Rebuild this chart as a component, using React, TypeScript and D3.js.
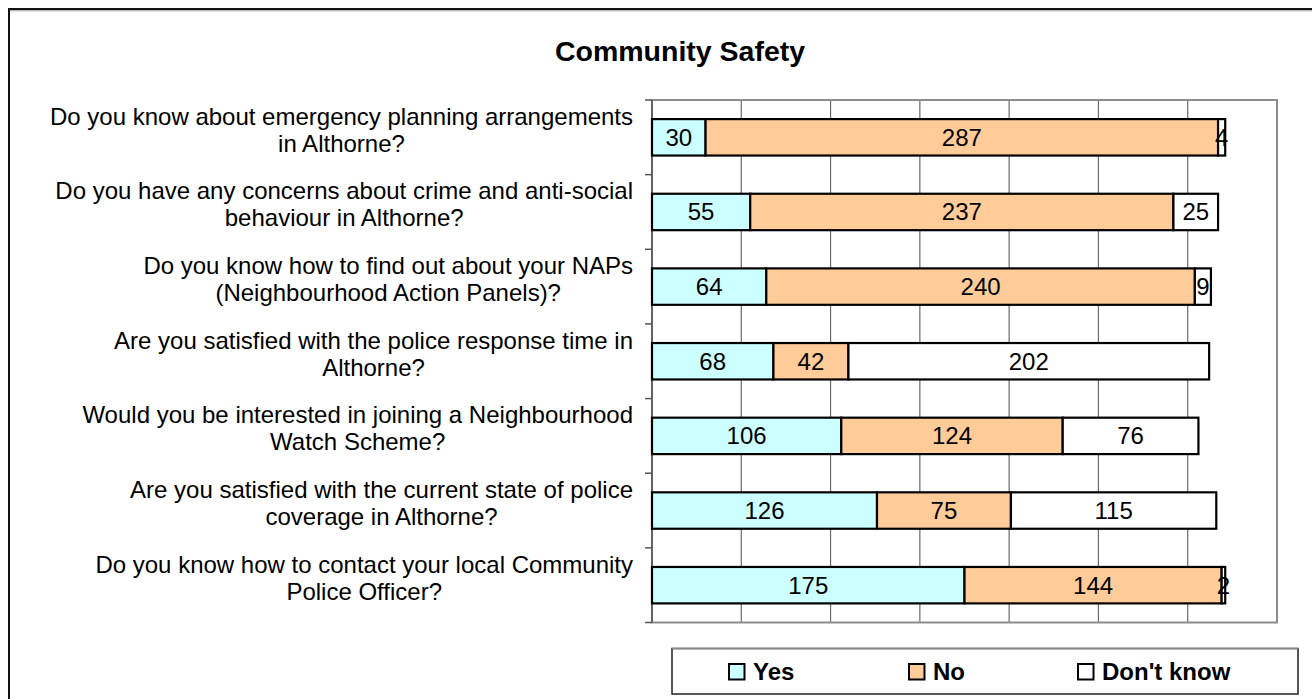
import React from "react";
import * as d3 from "d3";

const categories: string[][] = [
  ["Do you know about emergency planning arrangements", "in Althorne?"],
  ["Do you have any concerns about crime and anti-social", "behaviour in Althorne?"],
  ["Do you know how to find out about your NAPs", "(Neighbourhood Action Panels)?"],
  ["Are you satisfied with the police response time in", "Althorne?"],
  ["Would you be interested in joining a Neighbourhood", "Watch Scheme?"],
  ["Are you satisfied with the current state of police", "coverage in Althorne?"],
  ["Do you know how to contact your local Community", "Police Officer?"],
];
const yesValues = [30, 55, 64, 68, 106, 126, 175];
const noValues = [287, 237, 240, 42, 124, 75, 144];
const dontKnowValues = [4, 25, 9, 202, 76, 115, 2];
const seriesNames = ["Yes", "No", "Don't know"];
const seriesColors = ["#CCFFFF", "#FFCC99", "#FFFFFF"];
const xTicks = [0, 50, 100, 150, 200, 250, 300, 350];
const title = "Community Safety";

const FONT = "'Liberation Sans', Arial, Helvetica, sans-serif";

export default function App() {
  const W = 1312, H = 699;
  const plot = { left: 652, right: 1277, top: 100, bottom: 622.5 };
  const x = d3.scaleLinear().domain([0, 350]).range([plot.left, plot.right]);
  const keys = categories.map((_, i) => String(i));
  const y = d3.scaleBand().domain(keys).range([plot.top, plot.bottom]).paddingInner(0.512).paddingOuter(0.256);
  const rows = categories.map((_, i) => ({ key: String(i), Yes: yesValues[i], No: noValues[i], "Don't know": dontKnowValues[i] }));
  const stacked = d3.stack<any>().keys(seriesNames)(rows);
  const step = y.step();

  let ctx: CanvasRenderingContext2D | null = null;
  if (typeof document !== "undefined") {
    ctx = document.createElement("canvas").getContext("2d");
    if (ctx) ctx.font = `24px ${FONT}`;
  }
  const measure = (s: string) => (ctx ? ctx.measureText(s).width : s.length * 11);
  const labelRight = 633;

  const legend = [
    { sx: 729, tx: 753 },
    { sx: 909, tx: 933 },
    { sx: 1078, tx: 1102 },
  ];

  return (
    <div style={{ position: "fixed", left: 0, top: 0, width: W, height: H, overflow: "hidden", background: "#fff" }}>
      <svg width={W} height={H} style={{ display: "block" }} fontFamily={FONT}>
        <rect x={0} y={0} width={W} height={H} fill="#fff" />
        <rect x={9} y={9} width={W + 20} height={H + 20} fill="none" stroke="#111" strokeWidth={2} />
        <line x1={10} x2={W} y1={10.8} y2={10.8} stroke="#999" strokeWidth={1} />
        <text x={680} y={61} textAnchor="middle" fontSize={28.5} fontWeight="bold" fill="#000">{title}</text>

        {/* gridlines */}
        {xTicks.slice(1, -1).map((t) => (
          <line key={t} x1={x(t)} x2={x(t)} y1={plot.top} y2={plot.bottom} stroke="#6a6a6a" strokeWidth={1.2} />
        ))}
        {/* plot border */}
        <rect x={plot.left} y={plot.top} width={plot.right - plot.left} height={plot.bottom - plot.top} fill="none" stroke="#8c8c8c" strokeWidth={2} />
        {/* category axis */}
        <line x1={plot.left} x2={plot.left} y1={plot.top} y2={plot.bottom} stroke="#555" strokeWidth={1.5} />
        {d3.range(categories.length + 1).map((k) => (
          <line key={k} x1={plot.left - 7} x2={plot.left} y1={plot.top + k * step} y2={plot.top + k * step} stroke="#555" strokeWidth={1.5} />
        ))}

        {/* bars */}
        {stacked.map((s, si) => (
          <g key={s.key}>
            {s.map((d, i) => (
              <rect key={i} x={x(d[0])} y={y(String(i))!} width={x(d[1]) - x(d[0])} height={y.bandwidth()} fill={seriesColors[si]} stroke="#000" strokeWidth={2.2} />
            ))}
          </g>
        ))}
        {stacked.map((s) => (
          <g key={"l" + s.key}>
            {s.map((d, i) => (
              <text key={i} x={(x(d[0]) + x(d[1])) / 2} y={y(String(i))! + y.bandwidth() / 2 + 8.5} textAnchor="middle" fontSize={24} fill="#000">
                {d[1] - d[0]}
              </text>
            ))}
          </g>
        ))}

        {/* category labels */}
        {categories.map((lines, i) => {
          const maxW = Math.max(...lines.map(measure));
          const cx = labelRight - maxW / 2;
          const cy = y(String(i))! + y.bandwidth() / 2;
          return (
            <text key={i} textAnchor="middle" fontSize={24} fill="#000">
              {lines.map((ln, li) => (
                <tspan key={li} x={cx} y={cy - 12.5 + li * 27}>{ln}</tspan>
              ))}
            </text>
          );
        })}

        {/* legend */}
        <rect x={672} y={648.5} width={626} height={45.5} fill="#fff" stroke="#222" strokeWidth={1.5} />
        <line x1={672} x2={1298} y1={648.5} y2={648.5} stroke="#888" strokeWidth={1.5} />
        {seriesNames.map((n, i) => (
          <g key={n}>
            <rect x={legend[i].sx} y={664} width={15.5} height={15.5} fill={seriesColors[i]} stroke="#000" strokeWidth={2} />
            <text x={legend[i].tx} y={680} fontSize={24} fontWeight="bold" fill="#000">{n}</text>
          </g>
        ))}
      </svg>
    </div>
  );
}
